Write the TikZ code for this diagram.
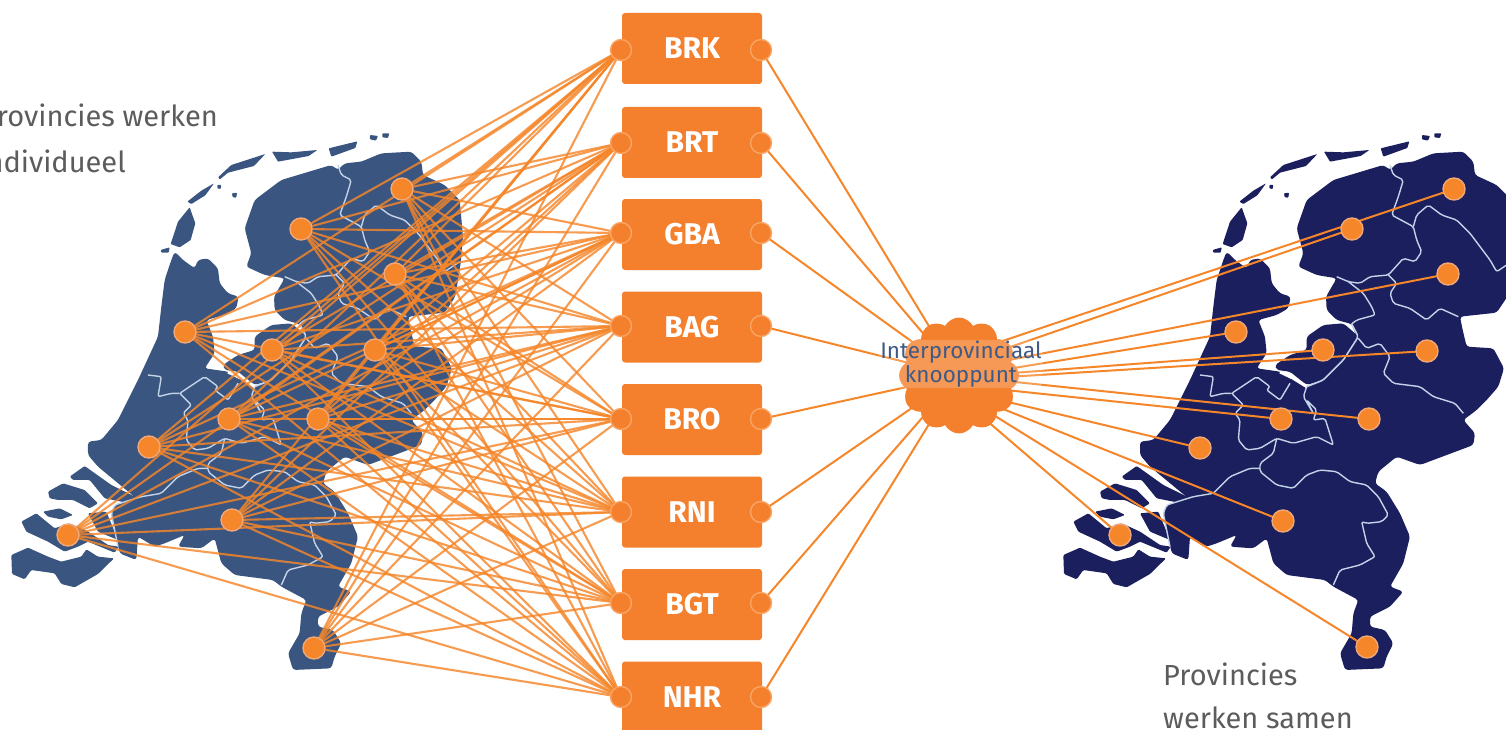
\documentclass[tikz,border=0pt]{standalone}
\usepackage{fontspec}
\setmainfont{Fira Sans}
\usetikzlibrary{shapes.symbols}
\definecolor{orangeMain}{HTML}{F47F2C}
\definecolor{orangeDot}{HTML}{F58629}
\definecolor{orangeRing}{HTML}{F0A878}
\definecolor{portRing}{HTML}{F9A566}
\definecolor{mapLeft}{HTML}{3A5580}
\definecolor{mapRight}{HTML}{1B1F5E}
\definecolor{borderLine}{HTML}{C3D3E8}
\definecolor{bodyGrey}{HTML}{5C5C5C}
\definecolor{cloudText}{HTML}{3E5A86}
\pgfdeclarelayer{maps}
\pgfdeclarelayer{edges}
\pgfsetlayers{maps,edges,main}
\tikzset{
  srcbox/.style={fill=orangeMain,rounded corners=3pt,inner sep=0pt,minimum width=140pt,minimum height=71pt,text=white,font=\fontsize{30}{32}\selectfont\bfseries},
  port/.style={circle,fill=orangeMain,draw=portRing,line width=1.4pt,minimum size=21pt,inner sep=0pt},
  pin/.style={circle,fill=orangeDot,draw=orangeRing,line width=1.4pt,minimum size=22pt,inner sep=0pt},
  link/.style={draw=orangeDot,line width=2.1pt,opacity=.82},
  link2/.style={draw=orangeDot,line width=2pt},
  bodytext/.style={text=bodyGrey,font=\fontsize{29}{34}\selectfont,inner sep=0pt},
  province/.style={draw=borderLine,line width=1.4pt,line join=round,rounded corners=2pt}
}
\newcommand{\nlmap}[2]{%
\begin{scope}[shift={(#1,120)},x=.33333pt,y=-.33333pt]
\fill[#2,rounded corners=3pt]
 (530,395)--(555,420)--(590,445)--(600,420)--(630,415)--(660,445)--(665,490)--(690,520)--(722,530)--(715,565)--(680,585)--(625,600)--(645,650)--(650,700)--(620,745)--(690,755)--(770,800)--(820,780)--(880,720)--(920,650)--(905,612)--(860,600)--(830,570)--(828,530)--(860,475)--(800,465)--(745,440)--(760,400)--(740,325)--(770,240)--(850,180)--(1000,135)--(1020,150)--(1040,130)--(1090,125)--(1150,100)--(1240,95)--(1270,125)--(1275,165)--(1340,195)--(1385,240)--(1395,350)--(1388,430)--(1372,530)--(1340,578)--(1230,590)--(1238,630)--(1250,680)--(1330,685)--(1362,745)--(1345,800)--(1310,840)--(1280,870)--(1240,900)--(1275,940)--(1270,975)--(1190,1005)--(1110,1035)--(1040,1010)--(985,1055)--(975,1090)--(1010,1115)--(1050,1180)--(1080,1250)--(1060,1330)--(1020,1400)--(1060,1415)--(1020,1460)--(960,1490)--(960,1520)--(1005,1530)--(1030,1570)--(1010,1610)--(1000,1645)--(885,1650)--(870,1600)--(905,1540)--(910,1480)--(925,1440)--(850,1400)--(825,1380)--(710,1365)--(670,1330)--(650,1255)--(610,1285)--(540,1280)--(560,1245)--(500,1270)--(470,1280)--(420,1250)--(415,1320)--(365,1300)--(340,1180)--(350,1155)--(415,1135)--(300,1040)--(270,1005)--(270,965)--(310,960)--(360,900)--(420,780)--(480,650)--(490,560)--(500,480)--(520,420)--cycle;
% Flevoland
\fill[#2,rounded corners=3pt]
 (675,735)--(720,705)--(770,690)--(770,650)--(820,615)--(880,610)--(915,640)--(925,650)--(880,720)--(820,780)--(770,795)--(720,755)--(680,750)--cycle;
% islands
\fill[#2,rounded corners=.8pt]
 (518,372)--(540,305)--(575,262)--(592,310)--(578,360)--(545,382)--cycle
 (488,390)--(515,382)--(512,398)--(490,398)--cycle
 (568,245)--(610,212)--(648,190)--(622,226)--(580,252)--cycle
 (658,195)--(670,195)--(668,207)--(658,205)--cycle
 (702,220)--(717,218)--(715,233)--(704,232)--cycle
 (660,172)--(700,135)--(802,102)--(768,138)--(690,158)--(666,178)--cycle
 (822,95)--(880,97)--(958,90)--(932,108)--(840,125)--cycle
 (992,85)--(1078,64)--(1072,84)--(1000,110)--cycle
 (1116,45)--(1140,48)--(1134,62)--(1116,58)--cycle
 (1153,40)--(1174,40)--(1170,54)--(1153,52)--cycle;
\fill[#2,rounded corners=1.2pt]
 (70,1205)--(115,1180)--(170,1225)--(215,1210)--(270,1235)--(330,1275)--(362,1280)--(350,1298)--(270,1265)--(240,1280)--(200,1295)--(150,1265)--(85,1235)--cycle
 (135,1175)--(185,1165)--(225,1185)--(190,1198)--(150,1190)--cycle
 (150,1115)--(195,1090)--(260,1110)--(300,1150)--(275,1165)--(225,1140)--(180,1140)--(155,1135)--cycle
 (215,1070)--(260,1038)--(340,1095)--(415,1132)--(395,1150)--(320,1135)--(275,1080)--(225,1080)--cycle
 (270,1180)--(325,1175)--(360,1260)--(300,1235)--cycle
 (40,1305)--(90,1283)--(150,1310)--(190,1325)--(250,1310)--(265,1288)--(300,1310)--(348,1315)--(300,1362)--(230,1402)--(190,1392)--(170,1360)--(100,1350)--(80,1378)--(42,1362)--cycle;
% province borders
\draw[province] (1020,135)--(1030,165)--(1060,180)--(1045,230)--(1025,285)--(1090,320)--(1100,360)--(1115,395)--(1095,425)--(1060,415)--(1015,465)--(960,470)--(930,490)--(895,485)--(860,470);
\draw[province] (1090,320)--(1100,285)--(1135,255)--(1175,285)--(1220,300)--(1260,340)--(1320,420)--(1340,455)--(1385,425);
\draw[province] (1015,465)--(1040,490)--(1020,520)--(1030,550)--(1080,565)--(1130,600)--(1170,565)--(1225,590);
\draw[province] (895,485)--(940,520)--(965,560)--(975,585)--(920,600)--(905,612);
\draw[province] (925,655)--(950,685)--(990,670)--(1020,710)--(1000,760)--(1030,790)--(1110,800)--(1150,830)--(1215,850)--(1240,880);
\draw[province] (770,800)--(760,830)--(790,880)--(770,840)--(800,870)--(790,900)--(825,895)--(850,975)--(800,950)--(730,970)--(680,955)--(630,985)--(590,990)--(565,960)--(570,900)--(555,880)--(580,855)--(545,820)--(620,770)--(660,800)--(650,810)--(690,840)--(720,790);
\draw[province] (545,820)--(520,820)--(480,830)--(490,770)--(450,765);
\draw[province] (680,955)--(670,1000)--(630,1030)--(630,1055)--(680,1095)--(730,1105)--(770,1065)--(810,1050)--(860,1055)--(900,1085)--(950,1095)--(985,1130)--(1015,1185)--(995,1205)--(950,1210)--(935,1205)--(950,1270)--(975,1310)--(930,1335)--(870,1350)--(850,1395);
\draw[province] (630,1045)--(600,1045)--(540,1070)--(490,1120)--(430,1130)--(350,1155)--(340,1180)--(360,1280);
% water between Flevoland and the mainland
\draw[white,line width=3pt,line join=round] (690,756)--(730,775)--(770,800);
\draw[borderLine,line width=1.6pt,line join=round,rounded corners=2pt] (770,800)--(820,780)--(880,720)--(925,650)--(905,612);
\end{scope}}
\begin{document}
\begin{tikzpicture}[x=1pt,y=-1pt]
\useasboundingbox (0,0) rectangle (1506,730);
\begin{pgfonlayer}{maps}
\fill[white] (0,0) rectangle (1506,730);
\nlmap{-2}{mapLeft}
\nlmap{1050}{mapRight}
\end{pgfonlayer}
% texts
\node[bodytext,anchor=base east] (txtA) at (218,127) {Provincies werken};
\node[bodytext,anchor=base east] (txtB) at (126,172) {individueel};
\node[bodytext,anchor=base west] (txtC) at (1163,685) {Provincies};
\node[bodytext,anchor=base west] (txtD) at (1163,728) {werken samen};
% source boxes and their ports
\foreach \n/\lab/\ymid/\yport in {1/BRK/48.5/50,2/BRT/142.5/143,3/GBA/234.5/233,4/BAG/327/326,5/BRO/419.5/419,6/RNI/512/512,7/BGT/604.5/603,8/NHR/697/697}{
  \node[srcbox] (box\n) at (692,\ymid) {\lab};
  \node[port] (pl\n) at (621,\yport) {};
  \node[port] (pr\n) at (761,\yport) {};
}
% pins, left map
\foreach \n/\x/\y in {1/402/189,2/301/229,3/395/274,4/185/332,5/272/350,6/375/350,7/229/419,8/318/419,9/149/447,10/68/535,11/232/520,12/314/648}{
  \node[pin] (ld\n) at (\x,\y) {};
}
% pins, right map, and the point each line leaves the cloud
\foreach \n/\x/\y/\s in {1/1454/189/356,2/1352/229/365,3/1448/274/370,4/1236/332/377,5/1323/350/377,6/1427/351/380,7/1281/419/385,8/1369/419/376,9/1200/448/390,10/1120/535/396,11/1283/521/391,12/1367/647/393}{
  \node[pin] (rd\n) at (\x,\y) {};
  \coordinate (cs\n) at (958,\s);
}
% cloud
\node[cloud,cloud puffs=12,cloud puff arc=125,aspect=1,fill=orangeMain,minimum width=120pt,minimum height=116pt,inner sep=0pt] (cloud) at (959,375.5) {};
\node[align=center,text=cloudText,font=\fontsize{22.5}{24}\selectfont,fill=white,fill opacity=.2,text opacity=1,rounded corners=8pt,inner sep=1pt] (cloudlabel) at (961,364) {Interprovinciaal\\knooppunt};
\begin{pgfonlayer}{edges}
\foreach \a in {1,...,12}{\foreach \b in {1,...,8}{\draw[link] (ld\a.center) -- (pl\b.center);}}
\foreach \b in {1,...,8}{\draw[link2] (pr\b.center) -- (cloud.center);}
\foreach \a in {1,...,12}{\draw[link2] (cs\a) -- (rd\a.center);}
\end{pgfonlayer}
\end{tikzpicture}
\end{document}
